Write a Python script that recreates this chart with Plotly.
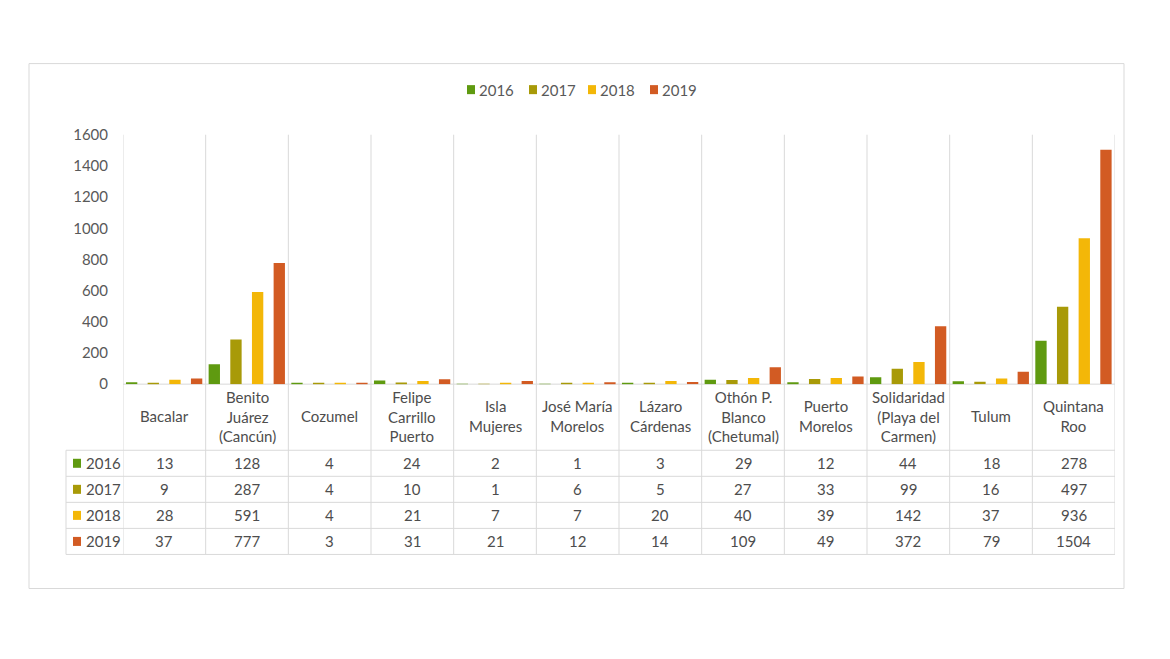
import plotly.graph_objects as go

categories = ["Bacalar", "Benito<br>Juárez<br>(Cancún)", "Cozumel", "Felipe<br>Carrillo<br>Puerto",
              "Isla<br>Mujeres", "José María<br>Morelos", "Lázaro<br>Cárdenas", "Othón P.<br>Blanco<br>(Chetumal)",
              "Puerto<br>Morelos", "Solidaridad<br>(Playa del<br>Carmen)", "Tulum", "Quintana<br>Roo"]
years = ["2016", "2017", "2018", "2019"]
v2016 = [13, 128, 4, 24, 2, 1, 3, 29, 12, 44, 18, 278]
v2017 = [9, 287, 4, 10, 1, 6, 5, 27, 33, 99, 16, 497]
v2018 = [28, 591, 4, 21, 7, 7, 20, 40, 39, 142, 37, 936]
v2019 = [37, 777, 3, 31, 21, 12, 14, 109, 49, 372, 79, 1504]
series = [v2016, v2017, v2018, v2019]
colors = ["#5f9a10", "#a89a08", "#f3b708", "#d25b23"]

W, H = 1170, 659
# screen-position helpers (vertical calibration for the capture)
VA, VB = 9.5, 0.971
def px(x): return x / W
def py(y): return 1 - ((y - VA) / VB) / H

FONT = "Lato"
GRID = "#d9d9d9"
TXT = "#4d4d4d"
FS = 15

n = len(categories)
xs = list(range(n))
fig = go.Figure()
bw = 0.137
pitch = 0.262
start = -0.464
for k, (yr, vals, c) in enumerate(zip(years, series, colors)):
    fig.add_trace(go.Bar(x=xs, y=vals, name=yr, marker=dict(color=c, line=dict(width=0)),
                         width=bw, offset=start + k * pitch, hoverinfo="x+y", showlegend=False))

shapes = []
shapes.append(dict(type="rect", xref="paper", yref="paper", x0=px(29), x1=px(1124), y0=py(587), y1=py(63),
                   line=dict(color=GRID, width=1), layer="below"))
for i in range(n + 1):
    shapes.append(dict(type="line", xref="x", yref="paper", x0=i - 0.5, x1=i - 0.5, y0=py(553), y1=py(134),
                       line=dict(color=GRID, width=1), layer="below"))
shapes.append(dict(type="line", xref="x", yref="paper", x0=-0.5, x1=n - 0.5, y0=py(383), y1=py(383),
                   line=dict(color=GRID, width=1), layer="below"))
for yl in [449, 475, 501, 527, 553]:
    shapes.append(dict(type="line", xref="paper", yref="paper", x0=px(66), x1=px(1115), y0=py(yl), y1=py(yl),
                       line=dict(color=GRID, width=1), layer="below"))
shapes.append(dict(type="line", xref="paper", yref="paper", x0=px(66), x1=px(66), y0=py(553), y1=py(449),
                   line=dict(color=GRID, width=1), layer="below"))

annotations = []
leg_x = [467, 529, 588, 650]
for k, (yr, c) in enumerate(zip(years, colors)):
    shapes.append(dict(type="rect", xref="paper", yref="paper", x0=px(leg_x[k]), x1=px(leg_x[k] + 8),
                       y0=py(93.5), y1=py(84.5), fillcolor=c, line=dict(width=0)))
    annotations.append(dict(x=px(leg_x[k] + 10), xref="paper", y=py(89), yref="paper", text=yr,
                            showarrow=False, font=dict(family=FONT, size=FS, color="#595959"),
                            xanchor="left", yanchor="middle"))
for i, c in enumerate(categories):
    annotations.append(dict(x=i, xref="x", y=py(415), yref="paper", text=c, showarrow=False,
                            font=dict(family=FONT, size=FS, color=TXT), xanchor="center", yanchor="middle"))
row_centers = [462, 488, 514, 540]
for r, (yr, vals, c) in enumerate(zip(years, series, colors)):
    shapes.append(dict(type="rect", xref="paper", yref="paper", x0=px(73), x1=px(81),
                       y0=py(row_centers[r] + 4.5), y1=py(row_centers[r] - 4.5), fillcolor=c, line=dict(width=0)))
    annotations.append(dict(x=px(84), xref="paper", y=py(row_centers[r]), yref="paper", text=yr,
                            showarrow=False, font=dict(family=FONT, size=FS, color=TXT),
                            xanchor="left", yanchor="middle"))
    for i, v in enumerate(vals):
        annotations.append(dict(x=i, xref="x", y=py(row_centers[r]), yref="paper", text=str(v),
                                showarrow=False, font=dict(family=FONT, size=FS, color=TXT),
                                xanchor="center", yanchor="middle"))

fig.update_layout(
    width=W, height=H, margin=dict(l=0, r=0, t=0, b=0),
    paper_bgcolor="white", plot_bgcolor="white",
    barmode="group", showlegend=False,
    font=dict(family=FONT, size=FS, color="#595959"),
    xaxis=dict(domain=[px(123), px(1115)], range=[-0.5, n - 0.5], showticklabels=False,
               showgrid=False, zeroline=False, showline=False, ticks=""),
    yaxis=dict(domain=[py(383), py(134)], range=[0, 1600], dtick=200, showgrid=False, zeroline=False,
               showline=False, ticks="", ticklabelstandoff=14,
               tickfont=dict(family=FONT, size=FS, color="#595959")),
    shapes=shapes, annotations=annotations,
)
post = ("document.documentElement.style.margin='0';document.body.style.margin='0';"
        "document.documentElement.style.overflow='hidden';document.body.style.overflow='hidden';"
        "var gd=document.getElementById('{plot_id}');gd.style.position='fixed';gd.style.top='0px';gd.style.left='0px';")
fig.write_html("out.html", config={"displayModeBar": False}, post_script=post)
